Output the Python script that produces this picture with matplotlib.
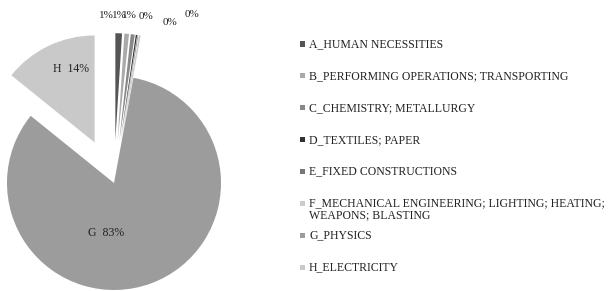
import numpy as np
import matplotlib.pyplot as plt
from matplotlib.patches import Rectangle

plt.rcParams['font.family'] = ['Liberation Serif', 'DejaVu Serif']

# share of patents by IPC section (percent)
categories = ["A_HUMAN NECESSITIES",
              "B_PERFORMING OPERATIONS; TRANSPORTING",
              "C_CHEMISTRY; METALLURGY",
              "D_TEXTILES; PAPER",
              "E_FIXED CONSTRUCTIONS",
              "F_MECHANICAL ENGINEERING; LIGHTING; HEATING;\nWEAPONS; BLASTING",
              "G_PHYSICS",
              "H_ELECTRICITY"]
short_names = ["A", "B", "C", "D", "E", "F", "G", "H"]
values = [1.0, 0.7, 0.6, 0.2, 0.1, 0.3, 82.9, 14.2]

colors = ["#555555", "#aaaaaa", "#888888", "#333333",
          "#777777", "#cccccc", "#9c9c9c", "#c9c9c9"]
explode = [0.4, 0.4, 0.4, 0.4, 0.4, 0.4, 0.0, 0.42]

W, H = 611, 291
fig = plt.figure(figsize=(W / 100, H / 100), dpi=100)

# pie axes: G circle centre at (114, 183) px, radius 107 px
cx, cy, rpx = 114, 183, 107
ax = fig.add_axes([0, 0, 240 / W, 1])

wedges, _ = ax.pie(values, colors=colors, explode=explode, startangle=90,
                   counterclock=False, radius=1.0, wedgeprops=dict(linewidth=0))

# pie() resets limits/aspect, so set them afterwards
ax.set_aspect('auto')
ax.set_xlim(-cx / rpx, (240 - cx) / rpx)
ax.set_ylim(-(H - cy) / rpx, cy / rpx)
ax.axis('off')

# labels for the two large slices, inside the wedge
big_pos = {6: (0.47, -99), 7: (0.72, 108)}
for i, (r, ang) in big_pos.items():
    w = wedges[i]
    x0, y0 = w.center
    a = np.deg2rad(ang)
    ax.text(x0 + r * np.cos(a), y0 + r * np.sin(a),
            f"{short_names[i]}  {round(values[i]):d}%",
            ha='center', va='center', fontsize=8.5, color='#222222')

# small slice labels sit above the pie (px positions from the top-left)
small_px = [(106, 15), (119, 15), (129, 15), (146, 16), (170, 22), (192, 14)]
for i, (px, py) in enumerate(small_px):
    ax.text((px - cx) / rpx, (cy - py) / rpx, f"{round(values[i]):d}%",
            ha='center', va='center', fontsize=8, color='#222222')

# legend, drawn entry by entry so the two-line entry keeps even spacing
y_first, dy = 44, 31.9
for i, (lab, col) in enumerate(zip(categories, colors)):
    yc = y_first + i * dy
    fig.patches.append(Rectangle((300 / W, 1 - (yc + 2.5) / H), 5 / W, 5 / H,
                                 transform=fig.transFigure, facecolor=col,
                                 edgecolor='none'))
    fig.text(309 / W, 1 - (yc - 6) / H, lab, ha='left', va='top',
             fontsize=8.5, color='#222222', linespacing=1.0)

fig.savefig("out.png", dpi=100, facecolor='white')
